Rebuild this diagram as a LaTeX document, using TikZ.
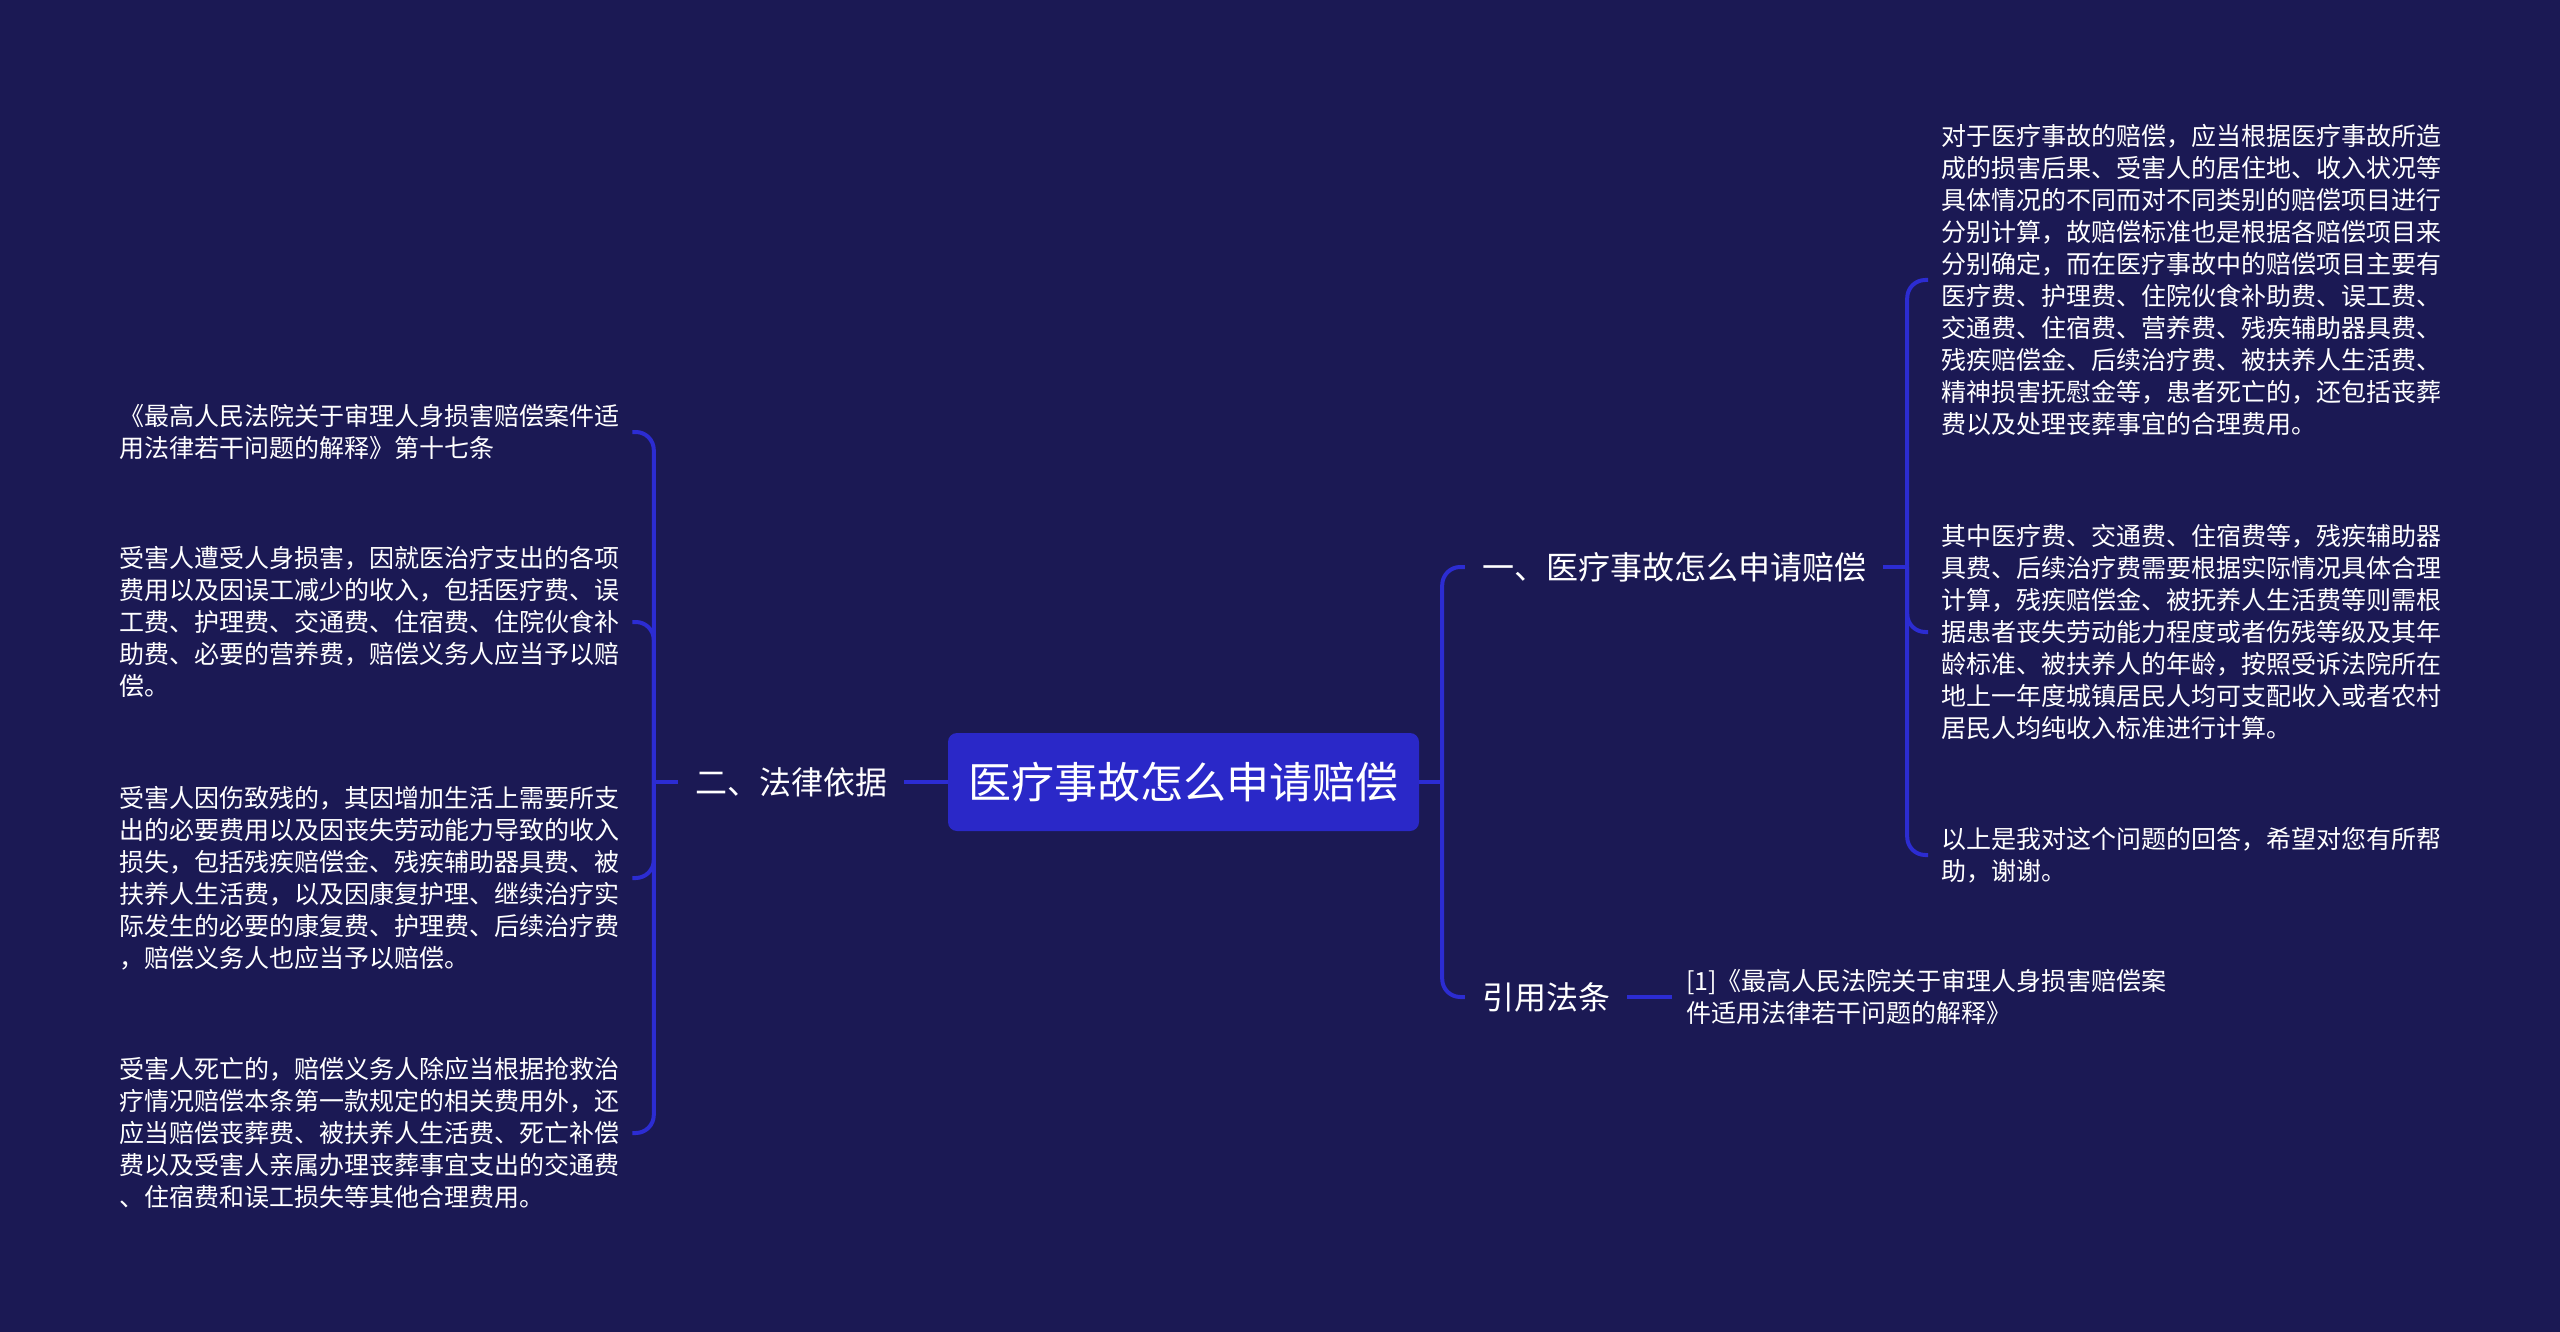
\documentclass[tikz,border=0pt]{standalone}
\usepackage{fontspec}
\setmainfont{Noto Sans CJK SC}
\usetikzlibrary{calc}
\definecolor{bgc}{RGB}{27,25,84}
\definecolor{boxc}{RGB}{42,40,200}
\definecolor{linec}{RGB}{44,44,210}
\begin{document}
\begin{tikzpicture}[x=1pt,y=-1pt,
  conn/.style={draw=linec,line width=4pt},
  hook/.style={conn,rounded corners=18pt},
  leaf/.style={text=white,align=left,inner sep=0pt,anchor=west,font=\fontsize{25}{32}\selectfont},
  branch/.style={text=white,inner xsep=17pt,inner ysep=4pt,font=\fontsize{32}{38}\selectfont},
  rootbox/.style={fill=boxc,rounded corners=9pt,text=white,inner sep=0pt,minimum width=471pt,minimum height=98pt,font=\fontsize{43}{52}\selectfont}]
\fill[bgc] (0,0) rectangle (2560,1332);
\useasboundingbox (0,0) rectangle (2560,1332);

% root
\node[rootbox] (root) at (1183.5,782) {医疗事故怎么申请赔偿};

% branches
\node[branch] (law) at (791,782) {二、法律依据};
\node[branch] (q1) at (1674,567) {一、医疗事故怎么申请赔偿};
\node[branch] (cite) at (1546,997) {引用法条};
\node[leaf,inner xsep=14pt] (ref) at (1672,997) {[1]《最高人民法院关于审理人身损害赔偿案\\件适用法律若干问题的解释》};

% left leaves
\node[leaf] (L1) at (119,432) {《最高人民法院关于审理人身损害赔偿案件适\\用法律若干问题的解释》第十七条};
\node[leaf] (L2) at (119,622) {受害人遭受人身损害，因就医治疗支出的各项\\费用以及因误工减少的收入，包括医疗费、误\\工费、护理费、交通费、住宿费、住院伙食补\\助费、必要的营养费，赔偿义务人应当予以赔\\偿。};
\node[leaf] (L3) at (119,878) {受害人因伤致残的，其因增加生活上需要所支\\出的必要费用以及因丧失劳动能力导致的收入\\损失，包括残疾赔偿金、残疾辅助器具费、被\\扶养人生活费，以及因康复护理、继续治疗实\\际发生的必要的康复费、护理费、后续治疗费\\，赔偿义务人也应当予以赔偿。};
\node[leaf] (L4) at (119,1133) {受害人死亡的，赔偿义务人除应当根据抢救治\\疗情况赔偿本条第一款规定的相关费用外，还\\应当赔偿丧葬费、被扶养人生活费、死亡补偿\\费以及受害人亲属办理丧葬事宜支出的交通费\\、住宿费和误工损失等其他合理费用。};

% right leaves
\node[leaf] (R1) at (1941,280) {对于医疗事故的赔偿，应当根据医疗事故所造\\成的损害后果、受害人的居住地、收入状况等\\具体情况的不同而对不同类别的赔偿项目进行\\分别计算，故赔偿标准也是根据各赔偿项目来\\分别确定，而在医疗事故中的赔偿项目主要有\\医疗费、护理费、住院伙食补助费、误工费、\\交通费、住宿费、营养费、残疾辅助器具费、\\残疾赔偿金、后续治疗费、被扶养人生活费、\\精神损害抚慰金等，患者死亡的，还包括丧葬\\费以及处理丧葬事宜的合理费用。};
\node[leaf] (R2) at (1941,632) {其中医疗费、交通费、住宿费等，残疾辅助器\\具费、后续治疗费需要根据实际情况具体合理\\计算，残疾赔偿金、被抚养人生活费等则需根\\据患者丧失劳动能力程度或者伤残等级及其年\\龄标准、被扶养人的年龄，按照受诉法院所在\\地上一年度城镇居民人均可支配收入或者农村\\居民人均纯收入标准进行计算。};
\node[leaf] (R3) at (1941,855) {以上是我对这个问题的回答，希望对您有所帮\\助，谢谢。};

% junction coordinates
\coordinate (Lj) at ($(law.west)+(-24,0)$);
\coordinate (Rj) at ($(root.east)+(23,0)$);
\coordinate (Qj) at ($(q1.east)+(24,0)$);
\coordinate (L1e) at ($(L1.east)+(13,0)$);
\coordinate (L2e) at ($(L2.east)+(13,0)$);
\coordinate (L3e) at ($(L3.east)+(13,0)$);
\coordinate (L4e) at ($(L4.east)+(13,0)$);
\coordinate (R1e) at ($(R1.west)+(-13,0)$);
\coordinate (R2e) at ($(R2.west)+(-13,0)$);
\coordinate (R3e) at ($(R3.west)+(-13,0)$);

% connectors
\draw[conn] (root.west) -- (law.east);
\draw[conn] (law.west) -- (Lj);
\draw[hook] (Lj) |- (L1e);
\draw[hook] (Lj) |- (L2e);
\draw[hook] (Lj) |- (L3e);
\draw[hook] (Lj) |- (L4e);

\draw[conn] (root.east) -- (Rj);
\draw[hook] (Rj) |- (q1.west);
\draw[hook] (Rj) |- (cite.west);

\draw[conn] (q1.east) -- (Qj);
\draw[hook] (Qj) |- (R1e);
\draw[hook] (Qj) |- (R2e);
\draw[hook] (Qj) |- (R3e);

\draw[conn] (cite.east) -- (ref.west);
\end{tikzpicture}
\end{document}
